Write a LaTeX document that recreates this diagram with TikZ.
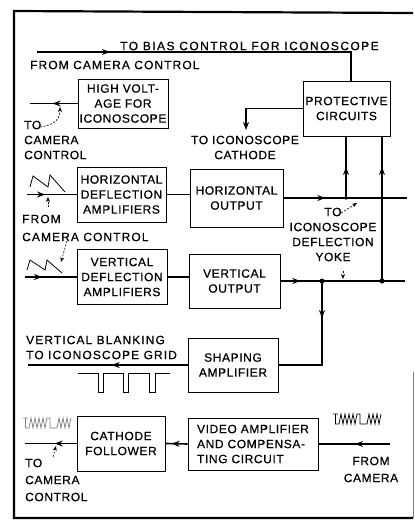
\documentclass[tikz,border=0pt]{standalone}
\usepackage{fontspec}
\setmainfont{Liberation Sans}[LetterSpace=5,FakeBold=0.6]
\newfontfamily\WideA{Liberation Sans}[LetterSpace=12,FakeBold=0.6]
\newfontfamily\WideB{Liberation Sans}[LetterSpace=9,FakeBold=0.6]
\usetikzlibrary{arrows.meta,decorations.markings}
\begin{document}
\begin{tikzpicture}[x=1pt,y=-1pt,
  txt/.style={font=\fontsize{12}{15}\selectfont, inner sep=0pt},
  blk/.style={draw, line width=0.7pt, txt, align=center},
  wire/.style={line width=1.6pt},
  tip/.style={postaction={decorate},decoration={markings,mark=at position #1 with {\arrow{Stealth[length=8pt,width=6pt]}}}},
  lead/.style={line width=0.6pt, dash pattern=on 2pt off 1.5pt, -{Stealth[length=5pt,width=4pt]}},
  jdot/.style={circle, fill, inner sep=0pt, minimum size=5pt},
  thinline/.style={line width=0.8pt},
  vidwave/.pic={\draw[line width=0.7pt] (0,1)--(5,1) (2.5,1)--(2.5,11)--(6,11)--(8,1)--(10,11)--(12,1)--(14,11)--(16,1)--(18,11)--(20,1)--(22,11)--(24,1)--(27,1)--(27,11)--(34,11)--(36,1)--(38,11)--(40,1)--(42,11)--(44,1)--(46,11)--(48,1);}
]
\useasboundingbox (0,0) rectangle (415,523);

% frame
\draw[line width=2.2pt] (413,13) -- (14,11) -- (14,518) -- (413,518);
\draw[line width=0.5pt, gray] (413,372) -- (413,518);

% blocks
\node[blk, minimum width=90pt, minimum height=49pt] (hv) at (123,103.5) {HIGH VOLT-\\AGE FOR\\ICONOSCOPE};
\node[blk, minimum width=87pt, minimum height=55pt] (pc) at (346.5,108.5) {PROTECTIVE\\CIRCUITS};
\node[blk, minimum width=89pt, minimum height=55pt] (hda) at (121.5,194.5) {HORIZONTAL\\DEFLECTION\\AMPLIFIERS};
\node[blk, minimum width=93pt, minimum height=58pt] (ho) at (236.5,198) {HORIZONTAL\\OUTPUT};
\node[blk, minimum width=90pt, minimum height=55pt] (vda) at (122,277) {VERTICAL\\DEFLECTION\\AMPLIFIERS};
\node[blk, minimum width=91pt, minimum height=54pt] (vo) at (234.5,281) {VERTICAL\\OUTPUT};
\node[blk, minimum width=90pt, minimum height=54pt] (sa) at (233,365) {SHAPING\\AMPLIFIER};
\node[blk, minimum width=88pt, minimum height=55pt] (cf) at (121,443.5) {CATHODE\\FOLLOWER};
\node[blk, minimum width=130pt, minimum height=52pt, align=left] (va) at (253,444) {VIDEO AMPLIFIER\\AND COMPENSA-\\TING CIRCUIT};

% coordinates
\coordinate (biasin) at (37,52);
\coordinate (hvout) at (30,103.5);
\coordinate (cath) at (246,130);
\coordinate (hin) at (27,194.5);
\coordinate (hyoke) at (407,198);
\coordinate (j1) at (346,198);
\coordinate (vin) at (25,277);
\coordinate (vyoke) at (405,281);
\coordinate (jv) at (322,281);
\coordinate (j2) at (382,281);
\coordinate (blank) at (28,365);
\coordinate (vidin) at (390,444);
\coordinate (cfout) at (25,443.5);

% wires
\draw[wire, tip=73pt] (biasin) -| ([xshift=4.5pt]pc.north);
\draw[wire, tip=25pt] (hv.west) -- (hvout);
\draw[wire, -{Stealth[length=8pt,width=6pt]}] (pc.west) -| (cath);
\draw[wire, tip=18pt] (hin) -- (hda.west);
\draw[wire] (hda.east) -- (hda.east -| ho.west);
\draw[wire, tip=42pt] (ho.east) -- (hyoke);
\draw[wire, tip=31pt] (j1) -- (j1 |- pc.south);
\draw[wire, tip=114pt] (j2) -- (j2 |- pc.south);
\draw[wire, tip=17pt] (vin) -- (vda.west);
\draw[wire] (vda.east) -- (vda.east -| vo.west);
\draw[wire, tip=20pt] (vo.east) -- (vyoke);
\draw[wire, tip=37pt] (jv) |- (sa.east);
\draw[wire, tip=76pt] (sa.west) -- (blank);
\draw[wire, tip=35pt] (vidin) -- (va.east);
\draw[wire, tip=16pt] (va.west) -- (cf.east);
\draw[wire, tip=22pt] (cf.west) -- (cfout);

\node[jdot, minimum size=3.5pt] (d1) at (j1) {};
\node[jdot] (d2) at (jv) {};
\node[jdot] (d3) at (j2) {};

% labels
\node[txt, anchor=west, font=\WideA\fontsize{12}{15}\selectfont] (lbias) at (120,46) {TO BIAS CONTROL FOR ICONOSCOPE};
\node[txt, anchor=west, font=\WideB\fontsize{12}{15}\selectfont] (lfrom) at (30,65) {FROM CAMERA CONTROL};
\node[txt, anchor=west, align=left] (lhvto) at (24,140) {TO\\CAMERA\\CONTROL};
\node[txt, align=center] (lcath) at (245,147.5) {TO ICONOSCOPE\\CATHODE};
\node[txt, anchor=west, align=left, font=\WideB\fontsize{12}{15}\selectfont] (lhfrom) at (22,228) {FROM\\[3pt]CAMERA CONTROL};
\node[txt, align=center] (lyoke) at (333,234.5) {TO\\ICONOSCOPE\\DEFLECTION\\YOKE};
\node[txt, anchor=west, align=left, font=\WideB\fontsize{12}{15}\selectfont] (lvb) at (26,347.5) {VERTICAL BLANKING\\TO ICONOSCOPE GRID};
\node[txt, anchor=west, align=left] (lcfto) at (25,480) {TO\\[2pt]CAMERA\\[2pt]CONTROL};
\node[txt, align=center] (lcam) at (371,469.5) {FROM\\[2pt]CAMERA};

% leaders
\draw[lead] (40,127) .. controls (55,125) and (60,119) .. (60,107);
\draw[lead] (48,207) -- (48,197);
\draw[lead] (67,241) -- (61,262);
\draw[lead] (341,213) -- (357,203);
\draw[lead] (343,271) -- (343,279);
\draw[lead] (53,457) -- (56,446);

% waveforms
\draw[thinline] (30,187) -- (33,176) -- (48,187) -- (50,175) -- (65,192);
\draw[thinline] (27,270) -- (30,260) -- (45,270) -- (47,260) -- (62,273);
\draw[thinline] (78,373) -- (98,373) -- (98,392) -- (103,392) -- (103,373) -- (123,373) -- (123,392) -- (128,392) -- (128,373) -- (149,373) -- (149,392) -- (155,392) -- (155,373) -- (170,373);
\pic at (333,413) {vidwave};
\pic[gray] at (23,417) {vidwave};
\end{tikzpicture}
\end{document}
